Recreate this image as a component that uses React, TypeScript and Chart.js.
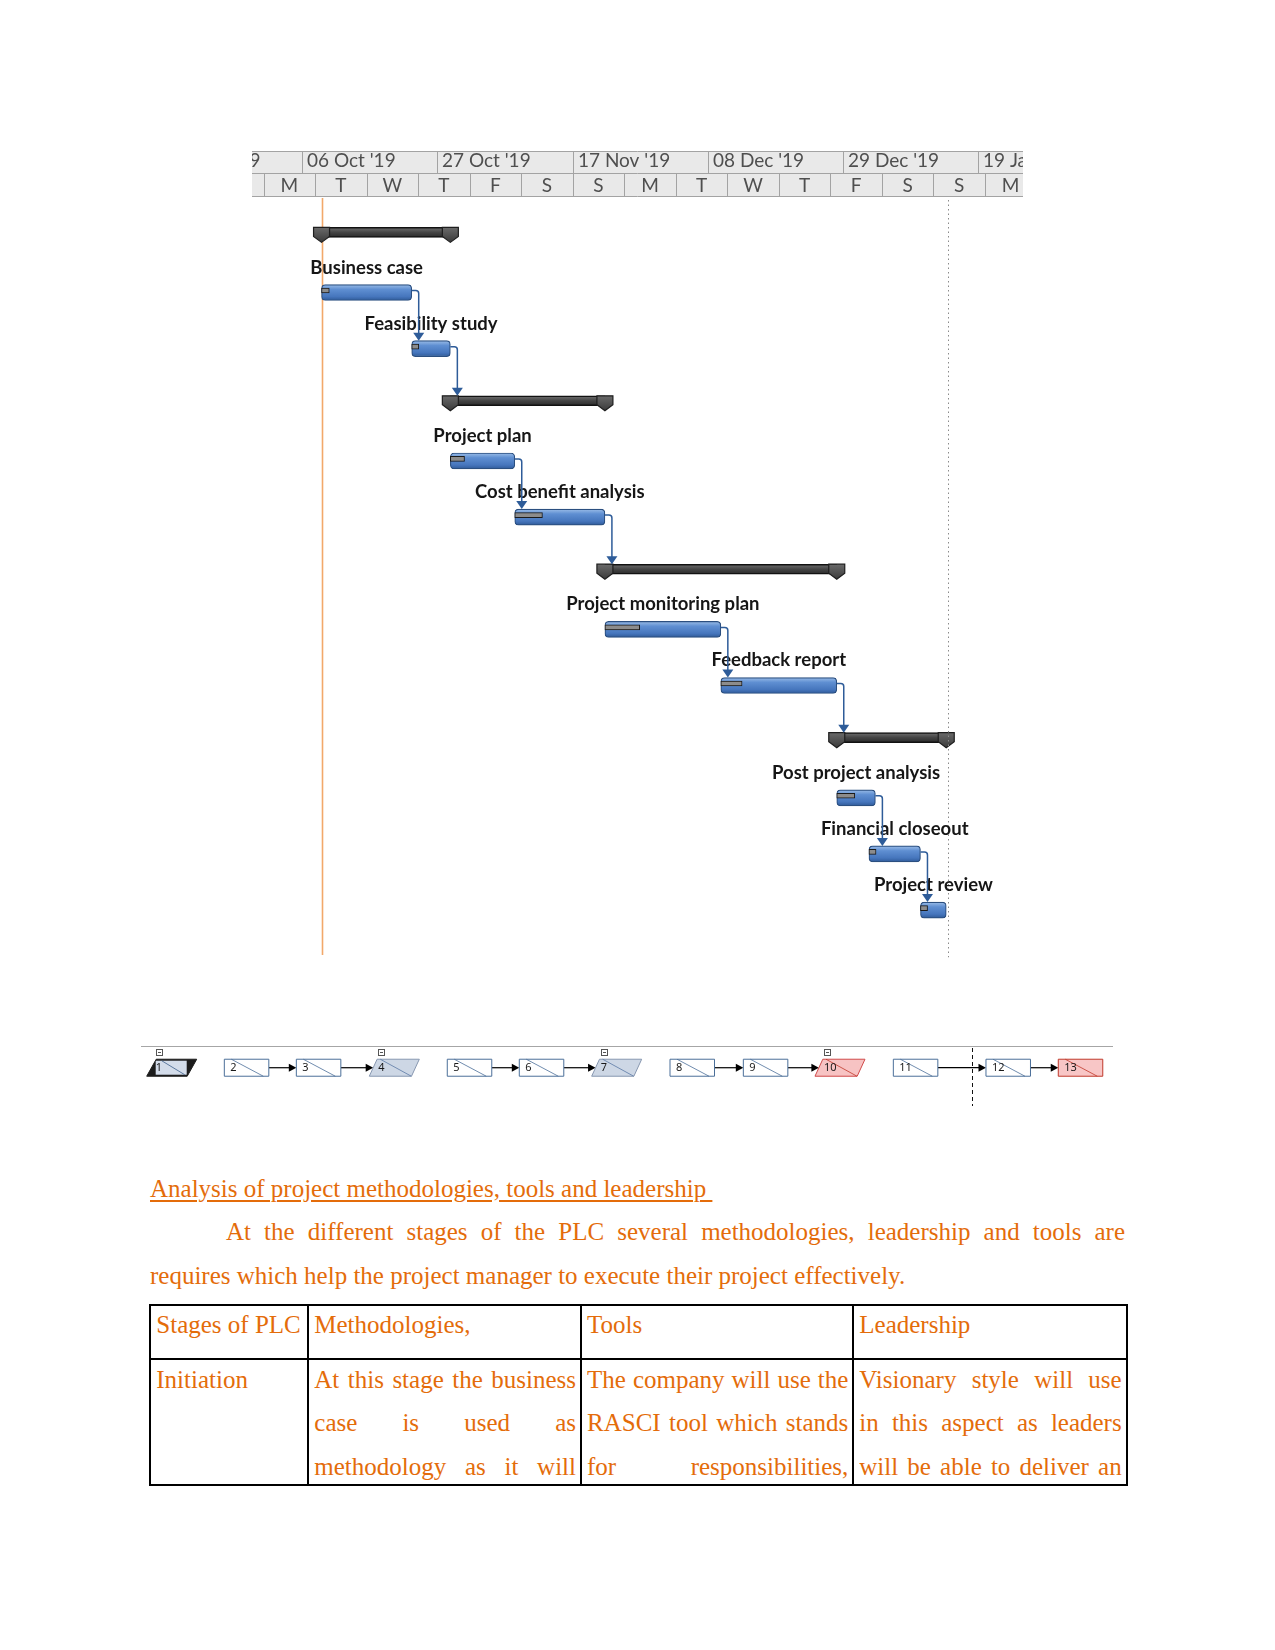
import React, { useEffect, useRef } from 'react';
import { Chart, registerables } from 'chart.js';
Chart.register(...registerables);

// ---------------- Gantt data (x = days after Sun 06 Oct 2019) ----------------
const taskNames = [
  'Business case', 'Feasibility study', 'Project plan', 'Cost benefit analysis',
  'Project monitoring plan', 'Feedback report', 'Post project analysis',
  'Financial closeout', 'Project review',
];
const taskRows = [1, 2, 4, 5, 7, 8, 10, 11, 12];
const taskStart = [3, 17, 23, 33, 47, 65, 83, 88, 96];
const taskEnd = [17, 23, 33, 47, 65, 83, 89, 96, 100];
const taskDoneEnd = [4.2, 18.1, 25.2, 37.3, 52.4, 68.3, 85.8, 89.1, 97.1];
const summaryRows = [0, 3, 6, 9];
const summaryStart = [3, 23, 47, 83];
const summaryEnd = [23, 47, 83, 100];
const linkFrom = [0, 1, 2, 3, 4, 5, 6, 7];
const linkToKind = ['task', 'summary', 'task', 'summary', 'task', 'summary', 'task', 'task'];
const linkToIndex = [1, 1, 3, 2, 5, 3, 7, 8];
const majorTickDays = [-21, 0, 21, 42, 63, 84, 105];
const majorTickLabels = ["15 Sep '19", "06 Oct '19", "27 Oct '19", "17 Nov '19", "08 Dec '19", "29 Dec '19", "19 Jan '20"];
const minorTickDays = [-14, -6, 2, 10, 18, 26, 34, 42, 50, 58, 66, 74, 82, 90, 98, 106, 114];
const minorTickLabels = ['S', 'M', 'T', 'W', 'T', 'F', 'S', 'S', 'M', 'T', 'W', 'T', 'F', 'S', 'S', 'M', 'T'];
const statusDay = 3;
const finishDay = 100.3;

// ---------------- Network diagram data ----------------
const nodeIds = ['1', '2', '3', '4', '5', '6', '7', '8', '9', '10', '11', '12', '13'];
const nodeKinds = ['project', 'task', 'task', 'summary', 'task', 'task', 'summary', 'task', 'task', 'critSummary', 'task', 'task', 'critTask'];
const nodeColumn = [0, 1.069, 2.061, 3.066, 4.14, 5.132, 6.129, 7.208, 8.218, 9.205, 10.284, 11.56, 12.556];
const nodeLinkFrom = [1, 2, 4, 5, 7, 8, 10, 11];
const nodeLinkTo = [2, 3, 5, 6, 8, 9, 11, 12];
const networkStatusColumn = 11.364;
const nodeRowY = 0.385;

const ORANGE = '#e46c0a';
const SERIF = '"Liberation Serif", "Times New Roman", serif';
const SUMMARY_LIFT = 0.072;

const ganttDecor = {
  id: 'ganttDecor',
  beforeDatasetsDraw(chart: any) {
    const { ctx, chartArea, scales } = chart;
    const x = scales.x, y = scales.y;
    ctx.save();
    const sx = Math.round(x.getPixelForValue(statusDay)) + 0.5;
    ctx.strokeStyle = '#f2a86a';
    ctx.lineWidth = 1.6;
    ctx.beginPath();
    ctx.moveTo(sx, chartArea.top);
    ctx.lineTo(sx, y.getPixelForValue(12.8));
    ctx.stroke();
    ctx.restore();
  },
  afterDatasetsDraw(chart: any) {
    const { ctx, chartArea, scales } = chart;
    const x = scales.x, y = scales.y;
    ctx.save();
    // summary end caps
    summaryRows.forEach((r, i) => {
      const cy = y.getPixelForValue(r - SUMMARY_LIFT);
      const top = cy - 5;
      [summaryStart[i], summaryEnd[i]].forEach((d) => {
        const cx = x.getPixelForValue(d);
        const g = ctx.createLinearGradient(0, top, 0, top + 15);
        g.addColorStop(0, '#6a6a6a');
        g.addColorStop(1, '#3a3a3a');
        ctx.beginPath();
        ctx.moveTo(cx - 8, top);
        ctx.lineTo(cx + 8, top);
        ctx.lineTo(cx + 8, top + 9);
        ctx.lineTo(cx, top + 15);
        ctx.lineTo(cx - 8, top + 9);
        ctx.closePath();
        ctx.fillStyle = g;
        ctx.fill();
        ctx.strokeStyle = '#1e1e1e';
        ctx.lineWidth = 1.2;
        ctx.stroke();
      });
    });
    // finish dotted line
    const fx = Math.round(x.getPixelForValue(finishDay)) + 0.5;
    ctx.strokeStyle = '#8a8a8a';
    ctx.lineWidth = 1;
    ctx.setLineDash([1.5, 3]);
    ctx.beginPath();
    ctx.moveTo(fx, chartArea.top + 2);
    ctx.lineTo(fx, y.getPixelForValue(12.84));
    ctx.stroke();
    ctx.setLineDash([]);
    // labels
    ctx.font = 'bold 18.5px Lato, "Open Sans", sans-serif';
    ctx.fillStyle = '#161616';
    ctx.textAlign = 'center';
    ctx.textBaseline = 'middle';
    taskNames.forEach((name, i) => {
      const cx = (x.getPixelForValue(taskStart[i]) + x.getPixelForValue(taskEnd[i])) / 2;
      ctx.fillText(name, cx, y.getPixelForValue(taskRows[i]) - 25);
    });
    // connectors
    const blue = '#2e5c99';
    linkFrom.forEach((fi, k) => {
      const x1 = x.getPixelForValue(taskEnd[fi]);
      const y1 = y.getPixelForValue(taskRows[fi]) - 2;
      const tx = x1 + 7;
      const ti = linkToIndex[k];
      const topY = linkToKind[k] === 'task'
        ? y.getPixelForValue(taskRows[ti]) - 8
        : y.getPixelForValue(summaryRows[ti] - SUMMARY_LIFT) - 5;
      ctx.strokeStyle = blue;
      ctx.lineWidth = 1.5;
      ctx.beginPath();
      ctx.moveTo(x1, y1);
      ctx.lineTo(tx - 3, y1);
      ctx.quadraticCurveTo(tx, y1, tx, y1 + 3);
      ctx.lineTo(tx, topY - 6);
      ctx.stroke();
      ctx.fillStyle = blue;
      ctx.beginPath();
      ctx.moveTo(tx - 5.5, topY - 8);
      ctx.lineTo(tx + 5.5, topY - 8);
      ctx.lineTo(tx, topY);
      ctx.closePath();
      ctx.fill();
    });
    ctx.restore();
  },
  afterDraw(chart: any) {
    const { ctx, chartArea, scales } = chart;
    const x = scales.x;
    const W = chartArea.right;
    ctx.save();
    ctx.beginPath();
    ctx.rect(0, 0, W, 48);
    ctx.clip();
    ctx.fillStyle = '#e9e9e9';
    ctx.fillRect(0, 1.5, W, 45);
    ctx.strokeStyle = '#a3a3a3';
    ctx.lineWidth = 1;
    [1.5, 23.5, 46.5].forEach((yy) => {
      ctx.beginPath();
      ctx.moveTo(0, yy);
      ctx.lineTo(W, yy);
      ctx.stroke();
    });
    ctx.font = '19px Lato, "Open Sans", sans-serif';
    ctx.fillStyle = '#4f4f4f';
    ctx.textBaseline = 'middle';
    majorTickDays.forEach((d, i) => {
      const px = Math.round(x.getPixelForValue(d)) + 0.5;
      ctx.beginPath();
      ctx.moveTo(px, 1.5);
      ctx.lineTo(px, 23.5);
      ctx.stroke();
      ctx.textAlign = 'left';
      ctx.fillText(majorTickLabels[i], px + 4.5, 11);
    });
    minorTickDays.forEach((d, i) => {
      const px = Math.round(x.getPixelForValue(d)) + 0.5;
      ctx.beginPath();
      ctx.moveTo(px, 23.5);
      ctx.lineTo(px, 46.5);
      ctx.stroke();
      const nx = x.getPixelForValue(d + 8);
      ctx.textAlign = 'center';
      ctx.fillText(minorTickLabels[i], (x.getPixelForValue(d) + nx) / 2, 36);
    });
    ctx.restore();
  },
};

function nodeGeom(kind: string, x0: number, cy: number) {
  const isPara = kind !== 'task' && kind !== 'critTask';
  const w = kind === 'project' ? 50 : isPara ? 50 : 44.5;
  const slant = kind === 'project' ? 9.5 : isPara ? 7.8 : 0;
  return { x0, w, slant, top: cy - 8.5, bot: cy + 8.5, left: x0 + slant / 2, right: x0 + w - slant / 2, isPara };
}

const netDecor = {
  id: 'netDecor',
  afterDatasetsDraw(chart: any) {
    const ctx = chart.ctx;
    const pts = chart.getDatasetMeta(0).data;
    const xs = chart.scales.x;
    ctx.save();
    ctx.strokeStyle = '#a6a6a6';
    ctx.lineWidth = 1;
    ctx.beginPath();
    ctx.moveTo(6, 6.5);
    ctx.lineTo(978, 6.5);
    ctx.stroke();
    const sx = Math.round(xs.getPixelForValue(networkStatusColumn)) + 0.5;
    ctx.strokeStyle = '#111';
    ctx.setLineDash([4, 3]);
    ctx.beginPath();
    ctx.moveTo(sx, 8);
    ctx.lineTo(sx, 66);
    ctx.stroke();
    ctx.setLineDash([]);
    // links
    nodeLinkFrom.forEach((a, k) => {
      const b = nodeLinkTo[k];
      const ga = nodeGeom(nodeKinds[a], pts[a].x, pts[a].y);
      const gb = nodeGeom(nodeKinds[b], pts[b].x, pts[b].y);
      const cy = pts[a].y;
      ctx.strokeStyle = '#000';
      ctx.lineWidth = 1.2;
      ctx.beginPath();
      ctx.moveTo(ga.right, cy);
      ctx.lineTo(gb.left - 6, cy);
      ctx.stroke();
      ctx.fillStyle = '#000';
      ctx.beginPath();
      ctx.moveTo(gb.left - 7.5, cy - 4);
      ctx.lineTo(gb.left, cy);
      ctx.lineTo(gb.left - 7.5, cy + 4);
      ctx.closePath();
      ctx.fill();
    });
    // nodes
    pts.forEach((p: any, i: number) => {
      const kind = nodeKinds[i];
      const g = nodeGeom(kind, p.x, p.y);
      const { x0, w, slant, top, bot } = g;
      const poly = () => {
        ctx.beginPath();
        ctx.moveTo(x0 + slant, top);
        ctx.lineTo(x0 + w, top);
        ctx.lineTo(x0 + w - slant, bot);
        ctx.lineTo(x0, bot);
        ctx.closePath();
      };
      let fill = '#ffffff', stroke = '#4b6f99', diag = '#4b6f99';
      if (kind === 'summary') { fill = '#cdd7e5'; stroke = '#8797b0'; diag = '#5a79a5'; }
      if (kind === 'critSummary') { fill = '#f7c3c3'; stroke = '#d04a4a'; diag = '#c0392b'; }
      if (kind === 'critTask') { fill = '#f8c6c6'; stroke = '#c0392b'; diag = '#c0392b'; }
      if (kind === 'project') { fill = '#1c1c1c'; stroke = '#1c1c1c'; diag = '#3d5f8a'; }
      poly();
      ctx.fillStyle = fill;
      ctx.fill();
      ctx.strokeStyle = stroke;
      ctx.lineWidth = 1;
      ctx.stroke();
      ctx.lineWidth = 0.8;
      ctx.strokeStyle = diag;
      ctx.beginPath();
      if (kind === 'project') {
        ctx.fillStyle = '#d3dcea';
        ctx.fillRect(x0 + 9, top + 1.5, 31, 14);
        ctx.moveTo(x0 + 15, top + 1.5);
        ctx.lineTo(x0 + 38, bot - 1.5);
      } else if (g.isPara) {
        ctx.moveTo(x0 + 11, top);
        ctx.lineTo(x0 + 42, bot);
      } else {
        ctx.moveTo(x0 + 7, top);
        ctx.lineTo(x0 + 39, bot);
      }
      ctx.stroke();
      ctx.font = '11px "Noto Sans", sans-serif';
      ctx.fillStyle = '#1a1a1a';
      ctx.textAlign = 'left';
      ctx.textBaseline = 'middle';
      ctx.fillText(nodeIds[i], x0 + (g.isPara ? 9 : 6), p.y + 0.5);
      if (g.isPara) {
        const bx = Math.round(x0 + 9) + 0.5;
        ctx.fillStyle = '#fff';
        ctx.strokeStyle = '#555';
        ctx.lineWidth = 1;
        ctx.fillRect(bx, 9.5, 6, 6);
        ctx.strokeRect(bx, 9.5, 6, 6);
        ctx.beginPath();
        ctx.moveTo(bx + 1.5, 12.5);
        ctx.lineTo(bx + 4.5, 12.5);
        ctx.stroke();
      }
    });
    ctx.restore();
  },
};

function taskGradient(c: any) {
  const chart = c.chart;
  const raw = c.raw;
  if (!raw || !chart.chartArea) return '#4f81bd';
  const yy = chart.scales.y.getPixelForValue(raw.y);
  const g = chart.ctx.createLinearGradient(0, yy - 8, 0, yy + 8);
  g.addColorStop(0, '#9bbde8');
  g.addColorStop(0.3, '#5f8fd2');
  g.addColorStop(0.75, '#4676bd');
  g.addColorStop(1, '#2f5a98');
  return g;
}

function summaryGradient(c: any) {
  const chart = c.chart;
  const raw = c.raw;
  if (!raw || !chart.chartArea) return '#444';
  const yy = chart.scales.y.getPixelForValue(raw.y);
  const g = chart.ctx.createLinearGradient(0, yy - 5, 0, yy + 5);
  g.addColorStop(0, '#707070');
  g.addColorStop(0.5, '#444444');
  g.addColorStop(1, '#2a2a2a');
  return g;
}

export default function App() {
  const ganttRef = useRef<HTMLCanvasElement>(null);
  const netRef = useRef<HTMLCanvasElement>(null);

  useEffect(() => {
    const gantt = new Chart(ganttRef.current as HTMLCanvasElement, {
      type: 'bar',
      data: {
        datasets: [
          {
            label: 'Complete',
            data: taskRows.map((r, i) => ({ x: [taskStart[i], taskDoneEnd[i]], y: r - 0.036 })) as any,
            barThickness: 5,
            backgroundColor: '#8c8c8c',
            borderColor: '#1a1a1a',
            borderWidth: 1,
            borderSkipped: false,
            grouped: false,
          } as any,
          {
            label: 'Tasks',
            data: taskRows.map((r, i) => ({ x: [taskStart[i], taskEnd[i]], y: r })) as any,
            barThickness: 16,
            backgroundColor: taskGradient,
            borderColor: '#2b4f80',
            borderWidth: 1.2,
            borderRadius: 4,
            borderSkipped: false,
            grouped: false,
          } as any,
          {
            label: 'Summary',
            data: summaryRows.map((r, i) => ({ x: [summaryStart[i], summaryEnd[i]], y: r - SUMMARY_LIFT })) as any,
            barThickness: 10,
            backgroundColor: summaryGradient,
            borderColor: '#111111',
            borderWidth: 1.5,
            borderSkipped: false,
            grouped: false,
          } as any,
        ],
      },
      options: {
        indexAxis: 'y',
        animation: false,
        responsive: false,
        maintainAspectRatio: false,
        layout: { padding: { top: 48, left: 0, right: 0, bottom: 0 } },
        plugins: { legend: { display: false }, tooltip: { enabled: false } },
        scales: {
          x: { type: 'linear', min: -7.8, max: 111.92, display: false, offset: false },
          y: { type: 'linear', min: -0.684, max: 12.978, reverse: true, display: false, offset: false },
        },
      } as any,
      plugins: [ganttDecor],
    });

    const net = new Chart(netRef.current as HTMLCanvasElement, {
      type: 'scatter',
      data: {
        datasets: [
          {
            label: 'Nodes',
            data: nodeColumn.map((c) => ({ x: c, y: nodeRowY })),
            pointRadius: 0,
          },
        ],
      },
      options: {
        animation: false,
        responsive: false,
        maintainAspectRatio: false,
        layout: { padding: 0 },
        plugins: { legend: { display: false }, tooltip: { enabled: false } },
        scales: {
          x: { type: 'linear', min: -0.1612, max: 13.475, display: false },
          y: { type: 'linear', min: 0, max: 1, reverse: true, display: false },
        },
      } as any,
      plugins: [netDecor],
    });

    return () => {
      gantt.destroy();
      net.destroy();
    };
  }, []);

  const seps = [150.3, 308.3, 581, 853.3, 1126.7];
  const header = ['Stages of PLC', 'Methodologies,', 'Tools', 'Leadership'];
  const body: string[][] = [
    ['Initiation'],
    ['At this stage the business', 'case is used as', 'methodology as it will'],
    ['The company will use the', 'RASCI tool which stands', 'for responsibilities,'],
    ['Visionary style will use', 'in this aspect as leaders', 'will be able to deliver an'],
  ];
  const textBase: React.CSSProperties = {
    fontFamily: SERIF,
    fontSize: 25,
    lineHeight: '43.7px',
    color: ORANGE,
  };
  const lineY = [1304.7, 1359.3, 1485];

  return (
    <div style={{ position: 'relative', width: 1275, height: 1650, background: '#fff', overflow: 'hidden' }}>
      <style>{'body{margin:0}'}</style>
      <canvas
        ref={ganttRef}
        width={771}
        height={815}
        style={{ position: 'absolute', left: 252, top: 150, width: 771, height: 815 }}
      />
      <canvas
        ref={netRef}
        width={990}
        height={72}
        style={{ position: 'absolute', left: 135, top: 1040, width: 990, height: 72 }}
      />
      <div style={{ ...textBase, position: 'absolute', left: 150, top: 1166.5, width: 975 }}>
        <div style={{ textDecoration: 'underline', whiteSpace: 'pre', textUnderlineOffset: 3 }}>
          {'Analysis of project methodologies, tools and leadership '}
        </div>
        <div style={{ textIndent: 76, textAlign: 'justify', textAlignLast: 'justify' }}>
          At the different stages of the PLC several methodologies, leadership and tools are
        </div>
        <div>requires which help the project manager to execute their project effectively.</div>
      </div>
      {seps.map((sx, i) => (
        <div
          key={'v' + i}
          style={{ position: 'absolute', left: sx - 1, top: lineY[0] - 1, width: 2, height: lineY[2] - lineY[0] + 2, background: '#000' }}
        />
      ))}
      {lineY.map((ly, i) => (
        <div
          key={'h' + i}
          style={{ position: 'absolute', left: seps[0] - 1, top: ly - 1, width: seps[4] - seps[0] + 2, height: 2, background: '#000' }}
        />
      ))}
      {header.map((h, i) => (
        <div
          key={'th' + i}
          style={{ ...textBase, position: 'absolute', left: seps[i] + 6, top: 1303.2, width: seps[i + 1] - seps[i] - 11, whiteSpace: 'nowrap' }}
        >
          {h}
        </div>
      ))}
      {body.map((lines, i) => (
        <div
          key={'td' + i}
          style={{ ...textBase, position: 'absolute', left: seps[i] + 6, top: 1357.5, width: seps[i + 1] - seps[i] - 11, height: 126.5, overflow: 'hidden' }}
        >
          {lines.map((ln, j) => (
            <div key={j} style={i === 0 ? {} : { textAlign: 'justify', textAlignLast: 'justify' }}>
              {ln}
            </div>
          ))}
        </div>
      ))}
    </div>
  );
}
